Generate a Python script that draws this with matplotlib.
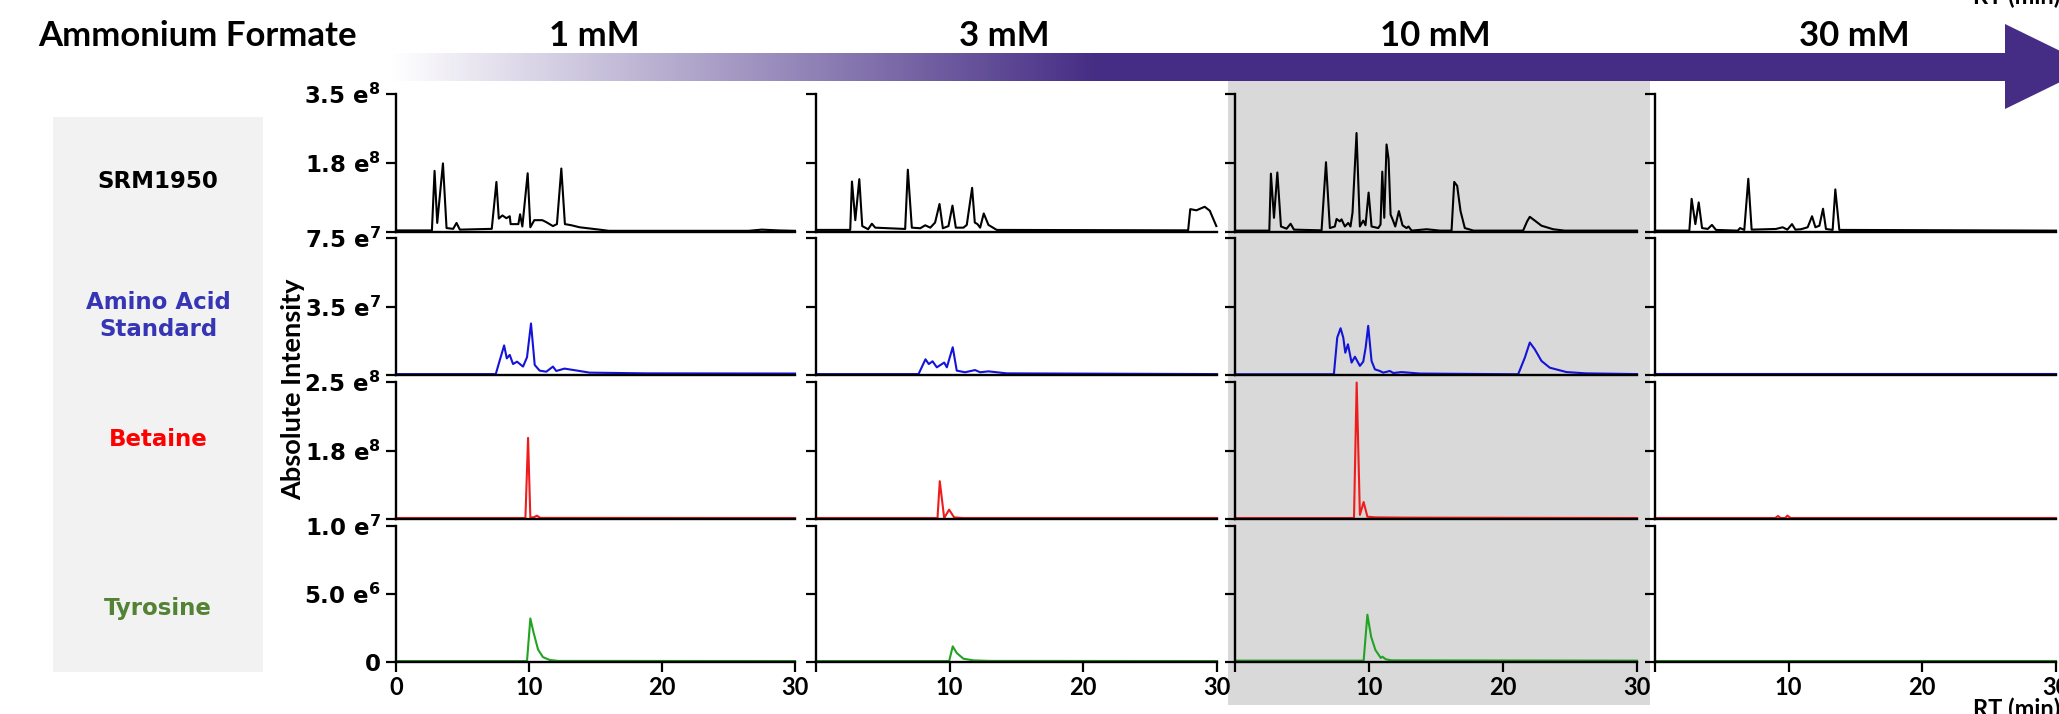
import numpy as np
import matplotlib.pyplot as plt
from matplotlib.colors import LinearSegmentedColormap
from matplotlib.patches import Rectangle, Polygon

# ammonium formate concentrations (columns) and samples (rows)
concs = ['1 mM', '3 mM', '10 mM', '30 mM']
samples = ['SRM1950', 'Amino Acid\nStandard', 'Betaine', 'Tyrosine']
sample_colors = ['#000000', '#3535b5', '#ff0000', '#548235']
trace_colors = ['#000000', '#1414d8', '#f01c1c', '#22a322']

# y axis top of each row (absolute intensity) and tick labels
row_top = [3.5e8, 7.5e7, 2.5e8, 1.0e7]
row_ticklabels = [
    ['', '1.8 e$^\\mathbf{8}$', '3.5 e$^\\mathbf{8}$'],
    ['', '3.5 e$^\\mathbf{7}$', '7.5 e$^\\mathbf{7}$'],
    ['', '1.8 e$^\\mathbf{8}$', '2.5 e$^\\mathbf{8}$'],
    ['0', '5.0 e$^\\mathbf{6}$', '1.0 e$^\\mathbf{7}$'],
]
rt_ticks = [0, 10, 20, 30]

# traces: RT (min) and intensity (x 1e6)
# ---- 1 mM
srm_1_t = [0, 2.7, 2.9, 3.1, 3.53, 3.8, 4.3, 4.55, 4.8, 7.2, 7.55, 7.73, 8.0, 8.3, 8.55, 8.62,
           9.2, 9.33, 9.5, 9.9, 10.1, 10.4, 11.0, 11.3, 11.8, 12.1, 12.43, 12.7, 13.2, 13.8,
           15.3, 16.0, 26.5, 27.5, 28.8, 30.0]
srm_1_i = [4, 4, 155, 23, 174, 10, 8, 23, 6, 8, 127, 34, 42, 35, 40, 20,
           20, 45, 14, 149, 12, 30, 30, 25, 15, 20, 161, 20, 17, 12,
           6, 3, 3, 6, 4, 3]
aa_1_t = [0, 7.5, 8.13, 8.33, 8.55, 8.8, 9.1, 9.55, 9.85, 10.15, 10.43, 10.8, 11.3, 11.8,
          12.05, 12.67, 13.8, 14.55, 18.8, 30]
aa_1_i = [0.5, 0.5, 16.2, 9.1, 11.0, 6.0, 7.3, 4.6, 9.7, 28.2, 5.5, 2.4, 1.8, 4.6,
          2.2, 3.5, 2.2, 1.3, 0.9, 0.8]
bet_1_t = [0, 9.73, 9.93, 10.1, 10.35, 10.6, 10.85, 30]
bet_1_i = [1.8, 1.8, 148, 3, 3, 6, 2, 1.8]
tyr_1_t = [0, 9.85, 10.1, 10.35, 10.68, 11.05, 11.55, 12.2, 30]
tyr_1_i = [0.07, 0.07, 3.2, 2.14, 0.92, 0.36, 0.15, 0.08, 0.07]

# ---- 3 mM
srm_3_t = [0, 2.56, 2.69, 2.94, 3.24, 3.46, 3.9, 4.18, 4.43, 6.67, 6.87, 7.17, 7.8, 8.17,
           8.55, 8.91, 9.24, 9.49, 9.91, 10.21, 10.46, 11.03, 11.28, 11.68, 11.88, 12.08,
           12.28, 12.55, 12.9, 13.52, 27.84, 28.0, 28.46, 29.08, 29.46, 29.95]
srm_3_i = [5.3, 5.3, 128, 30, 134, 15, 7, 21, 11, 7.7, 158, 11, 9.5, 17,
           11, 24, 71, 9.5, 15, 67, 11, 11, 18, 112, 24, 20,
           11, 47, 18, 5.3, 4.2, 58, 55, 64, 54, 15]
aa_3_t = [0, 7.67, 8.19, 8.44, 8.72, 9.04, 9.59, 9.79, 10.23, 10.53, 11.15, 11.9, 12.28,
          12.9, 14.27, 30]
aa_3_i = [0.5, 0.5, 8.6, 6.0, 7.5, 4.2, 6.8, 4.2, 15.2, 2.4, 1.5, 2.7, 1.5,
          2.0, 0.9, 0.5]
bet_3_t = [0, 9.09, 9.26, 9.59, 9.96, 10.33, 11.0, 30]
bet_3_i = [1.8, 1.8, 69, 1.8, 17, 3, 1.8, 1.8]
tyr_3_t = [0, 9.96, 10.23, 10.53, 11.03, 11.78, 13.0, 30]
tyr_3_i = [0.07, 0.07, 1.15, 0.66, 0.24, 0.12, 0.08, 0.07]

# ---- 10 mM
srm_10_t = [0, 2.56, 2.68, 2.91, 3.16, 3.43, 3.85, 4.15, 4.4, 6.46, 6.79, 7.08, 7.45, 7.58,
            7.82, 7.95, 8.2, 8.45, 8.62, 8.77, 9.07, 9.32, 9.57, 9.74, 9.97, 10.19, 10.69,
            10.86, 10.99, 11.14, 11.31, 11.46, 11.61, 11.76, 11.96, 12.23, 12.5, 12.8, 12.95,
            13.18, 14.3, 15.3, 16.16, 16.36, 16.58, 16.83, 17.15, 17.8, 21.5, 21.8, 22.0,
            22.37, 22.87, 23.74, 24.6, 30]
srm_10_i = [3.5, 3.5, 148, 36, 151, 14, 8.4, 21, 6, 4.2, 177, 10, 14, 33,
            27, 32, 14, 23, 14, 49, 251, 14, 29, 17, 100, 14, 10,
            19, 153, 36, 222, 185, 44, 32, 14, 53, 17, 10, 14,
            3.5, 7, 3.5, 3.5, 127, 117, 53, 10, 3.5, 3.5, 27, 38.5,
            29, 16, 7, 3.5, 3.5]
aa_10_t = [0, 7.38, 7.63, 7.88, 8.08, 8.23, 8.43, 8.7, 8.95, 9.32, 9.57, 9.75, 9.94, 10.19,
           10.44, 10.81, 11.06, 11.56, 11.81, 12.43, 13.8, 21.13, 21.63, 22.0, 22.37, 22.87,
           23.49, 24.74, 26.2, 30]
aa_10_i = [0.4, 0.4, 20.5, 25.6, 20.5, 12.2, 16.8, 6.8, 10, 5, 7.3, 15, 26.9, 7.7,
           3.1, 2.2, 1.3, 2.2, 1.1, 1.6, 0.8, 0.4, 9.5, 17.8, 14.1, 7.7,
           4.0, 1.6, 0.9, 0.5]
bet_10_t = [0, 8.88, 9.08, 9.32, 9.6, 9.88, 10.48, 12.68, 30]
bet_10_i = [1.8, 1.8, 249, 7.5, 31, 4.2, 3, 2.5, 1.8]
tyr_10_t = [0, 9.6, 9.88, 10.16, 10.48, 10.88, 11.0, 11.25, 11.68, 30]
tyr_10_i = [0.1, 0.1, 3.48, 1.85, 0.88, 0.3, 0.39, 0.2, 0.12, 0.1]

# ---- 30 mM
srm_30_t = [0, 2.57, 2.74, 3.02, 3.27, 3.52, 3.95, 4.26, 4.56, 6.2, 6.36, 6.68, 6.98, 7.23,
            9.05, 9.55, 9.9, 10.25, 10.5, 10.92, 11.42, 11.75, 12.0, 12.3, 12.57, 12.79,
            13.29, 13.49, 13.79, 30]
srm_30_i = [3.5, 3.5, 84, 20, 75, 10, 7.7, 18, 5.3, 3.5, 10, 5.3, 135, 6,
            7.7, 12, 6, 20, 6, 7, 12, 40, 12, 16, 59, 7.7,
            5.3, 108, 5.3, 3.5]
aa_30_t = [0, 30]
aa_30_i = [0.4, 0.4]
bet_30_t = [0, 9.0, 9.2, 9.4, 9.75, 9.9, 10.15, 30]
bet_30_i = [1.8, 1.8, 5.5, 1.8, 1.8, 6.2, 1.8, 1.8]
tyr_30_t = [0, 30]
tyr_30_i = [0.1, 0.1]

traces = [
    [(srm_1_t, srm_1_i), (aa_1_t, aa_1_i), (bet_1_t, bet_1_i), (tyr_1_t, tyr_1_i)],
    [(srm_3_t, srm_3_i), (aa_3_t, aa_3_i), (bet_3_t, bet_3_i), (tyr_3_t, tyr_3_i)],
    [(srm_10_t, srm_10_i), (aa_10_t, aa_10_i), (bet_10_t, bet_10_i), (tyr_10_t, tyr_10_i)],
    [(srm_30_t, srm_30_i), (aa_30_t, aa_30_i), (bet_30_t, bet_30_i), (tyr_30_t, tyr_30_i)],
]

# layout in pixels
W, H = 2059, 714
col_x = [(396, 795), (816, 1217), (1235, 1637), (1655, 2056)]
row_y = [(94, 232), (238, 375), (382, 519), (526, 662)]
conc_x = [594, 1004, 1435, 1854]
label_y = [181, 316, 439, 609]
purple = '#452c84'
head_font = 'Lato'

plt.rcParams['mathtext.fontset'] = 'dejavusans'

fig = plt.figure(figsize=(W / 100, H / 100), dpi=100)

# background layer in pixel coordinates
bg = fig.add_axes([0, 0, 1, 1])
bg.set_xlim(0, W)
bg.set_ylim(H, 0)
bg.axis('off')
bg.add_patch(Rectangle((53, 117), 210, 555, color='#f2f2f2', lw=0))
bg.add_patch(Rectangle((1228, 81), 422, 624, color='#d9d9d9', lw=0))

cmap = LinearSegmentedColormap.from_list('grad', ['#ffffff', purple])
bg.imshow(np.linspace(0, 1, 256)[None, :], cmap=cmap, extent=[391, 1101, 81, 53],
          aspect='auto', interpolation='bilinear')
bg.add_patch(Rectangle((1100, 53), 910, 28, color=purple, lw=0))
bg.add_patch(Polygon([(2005, 24), (2092, 66.5), (2005, 109)], closed=True, color=purple, lw=0))
bg.set_xlim(0, W)
bg.set_ylim(H, 0)

bg.text(197, 36, 'Ammonium Formate', ha='center', va='center', fontsize=25,
        fontweight='bold', family=head_font)
for cx, c in zip(conc_x, concs):
    bg.text(cx, 36, c, ha='center', va='center', fontsize=25, fontweight='bold', family=head_font)

for ly, s, sc in zip(label_y, samples, sample_colors):
    bg.text(158, ly, s, ha='center', va='center', fontsize=16.5, fontweight='bold',
            color=sc, family='DejaVu Sans', linespacing=1.2)

bg.text(293, 389, 'Absolute Intensity', ha='center', va='center', rotation=90,
        fontsize=19.5, fontweight='bold', family=head_font)
bg.text(1973, 8, 'RT (min)', ha='left', va='bottom', fontsize=17, fontweight='bold', family=head_font)
bg.text(1973, 698, 'RT (min)', ha='left', va='top', fontsize=17, fontweight='bold', family=head_font)

# chromatogram panels
for c in range(4):
    x0, x1 = col_x[c]
    for r in range(4):
        y0, y1 = row_y[r]
        ax = fig.add_axes([x0 / W, 1 - y1 / H, (x1 - x0) / W, (y1 - y0) / H])
        ax.patch.set_alpha(0)
        t, inten = traces[c][r]
        ax.plot(t, np.array(inten) * 1e6, color=trace_colors[r], lw=1.5, clip_on=False,
                solid_joinstyle='round')
        ax.set_xlim(0, 30)
        ax.set_ylim(0, row_top[r])
        for side in ['top', 'right']:
            ax.spines[side].set_visible(False)
        for side in ['left', 'bottom']:
            ax.spines[side].set_linewidth(1.7)
        ax.set_yticks([0, row_top[r] / 2, row_top[r]])
        if c == 0:
            ax.set_yticklabels(row_ticklabels[r], fontsize=16.5, fontweight='bold',
                               family='DejaVu Sans')
        else:
            ax.set_yticklabels([])
        ax.tick_params(axis='y', direction='out', length=7, width=1.6, pad=4)
        if r == 3:
            ax.set_xticks(rt_ticks)
            labs = [str(v) for v in rt_ticks]
            if c > 0:
                labs[0] = ''
            ax.set_xticklabels(labs, fontsize=17, fontweight='bold', family=head_font)
            ax.tick_params(axis='x', direction='out', length=7, width=1.6, pad=3)
        else:
            ax.set_xticks([])

plt.savefig('out.png', dpi=100)
